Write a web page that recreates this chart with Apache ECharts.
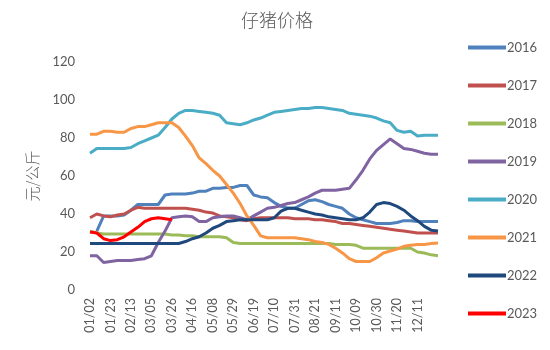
<!DOCTYPE html>
<html>
<head>
<meta charset="utf-8">
<script src="https://cdn.jsdelivr.net/npm/echarts@6/dist/echarts.min.js"></script>
<style>
  html, body { margin: 0; padding: 0; background: #ffffff; }
  #chart { width: 550px; height: 350px; }
</style>
</head>
<body>
<div id="chart"></div>
<script>
// Weekly sampling dates (month/day)
const categories = [
  '01/02','01/09','01/16','01/23','01/30','02/06','02/13','02/20','02/27','03/05',
  '03/12','03/19','03/26','04/02','04/09','04/16','04/23','04/29','05/08','05/15',
  '05/22','05/29','06/05','06/12','06/19','06/26','07/03','07/10','07/17','07/24',
  '07/31','08/07','08/14','08/21','08/28','09/04','09/11','09/18','09/25','10/09',
  '10/16','10/23','10/30','11/06','11/13','11/20','11/27','12/04','12/11','12/18',
  '12/25','12/29'
];

// Piglet prices, 元/公斤
const s2016 = [null,31,39,39,39,39.5,42,45,45,45,45,50,50.5,50.5,50.5,51,52,52,53.5,53.5,
  54,54,55,55,50,49,48.5,46,44,43,43,45,47,47.5,46.5,45,44,43,40,38,
  37,36,35,35,35,35.5,36.5,36.5,36,36,36,36];
const s2017 = [38,40,39,38.5,39.5,40,42,43.5,43,43,43,43,43,43,43,42.5,42,41,40.5,39,
  38.5,38,37,36.5,37.5,38,38,38,38,38,37.5,37.5,37.5,37,37,36.5,36,35,35,34.5,
  34,33.5,33,32.5,32,31.5,31,30.5,30,30,30,30];
const s2018 = [31,30,29.5,29.5,29.5,29.5,29.5,29.5,29.5,29.5,29.5,29.5,29,29,28.5,28.5,28,28,28,28,
  27.5,25,24.5,24.5,24.5,24.5,24.5,24.5,24.5,24.5,24.5,24.5,24.5,24.5,24.5,24.5,24,24,24,23.5,
  22,22,22,22,22,22,22,22,20,19.5,18.5,18];
const s2019 = [18,18,14.5,15,15.5,15.5,15.5,16,16.5,18,25,31,38,38.5,39,38.5,36,36,38,38.5,
  39,39,38,37,39,41,43,43.5,44.5,45.5,46,47.5,49,51,52.5,52.5,52.5,53,53.5,58,
  63,69,73.5,76.5,79.5,77,74.5,74,73,72,71.5,71.5];
const s2020 = [72,74.5,74.5,74.5,74.5,74.5,75,77,78.5,80,81.5,85.5,90,93,94.5,94.5,94,93.5,93,92,
  88,87.5,87,88,89.5,90.5,92,93.5,94,94.5,95,95.5,95.5,96,96,95.5,95,94.5,93,92.5,
  92,91.5,90.5,89,88,84,83,83.5,81,81.5,81.5,81.5];
const s2021 = [82,82,83.5,83.5,83,83,85,86,86,87,88,88,88,85.5,81,76,69.5,66.5,63,60,
  55.5,51,45.5,39,34,28.5,27.5,27.5,27.5,27.5,27.5,27,26.5,25.5,25,24,22,19.5,16.5,15,
  15,15,17,19.5,20.5,21.5,23,23.5,24,24,24.5,24.7];
const s2022 = [24.5,24.5,24.5,24.5,24.5,24.5,24.5,24.5,24.5,24.5,24.5,24.5,24.5,24.5,25.5,27,28,30,32.5,34,
  36,36.5,37,37,37,37,37,38,41.5,43,43,42,41,40,39.5,38.5,38,37.5,37,37,
  38,41,45,46,45.5,44,42,39,36.5,33.5,31.5,31];
const s2023 = [30.5,30,27,26,26.5,28,30.5,33,36,37.5,38,37.5,37];

const yTicks = { min: 0, max: 120, interval: 20 };
// Date labels are printed every third week, up to 12/11
const labelStep = 3;
const lastLabelIndex = 48;

const seriesDefs = [
  { name: '2016', data: s2016, color: '#4F81BD' },
  { name: '2017', data: s2017, color: '#C0504D' },
  { name: '2018', data: s2018, color: '#9BBB59' },
  { name: '2019', data: s2019, color: '#8064A2' },
  { name: '2020', data: s2020, color: '#4BACC6' },
  { name: '2021', data: s2021, color: '#F79646' },
  { name: '2022', data: s2022, color: '#1F497D' },
  { name: '2023', data: s2023, color: '#FF0000' }
];

const textColor = '#595959';
const numFont = 'Lato, "Noto Sans CJK SC", sans-serif';
const cjkFont = '"Noto Sans CJK SC", sans-serif';

const chart = echarts.init(document.getElementById('chart'), null, { renderer: 'canvas' });

chart.setOption({
  animation: false,
  backgroundColor: '#ffffff',
  title: {
    text: '仔猪价格',
    left: 272,
    top: 6,
    textAlign: 'center',
    textStyle: { fontFamily: cjkFont, fontSize: 18, fontWeight: 300, color: textColor }
  },
  legend: {
    type: 'plain',
    orient: 'vertical',
    left: 463,
    top: 33,
    bottom: 0,
    itemGap: 19,
    itemWidth: 38,
    itemHeight: 16,
    icon: 'path://M0,6 L38,6 L38,10 L0,10 Z',
    textStyle: { fontFamily: numFont, fontSize: 13, color: textColor, padding: [0, 0, 0, -4], height: 19, lineHeight: 19 },
    data: seriesDefs.map(s => s.name)
  },
  grid: { left: 90, right: 112, top: 62, bottom: 60, containLabel: false },
  xAxis: {
    type: 'category',
    boundaryGap: false,
    data: categories,
    axisLine: { show: false },
    axisTick: { show: false },
    axisLabel: {
      interval: (idx) => idx % labelStep === 0 && idx <= lastLabelIndex,
      rotate: 90,
      margin: 8,
      fontFamily: numFont,
      fontSize: 12.5,
      color: textColor
    },
    splitLine: { show: false }
  },
  yAxis: {
    type: 'value',
    min: yTicks.min,
    max: yTicks.max,
    interval: yTicks.interval,
    name: '元/公斤',
    nameLocation: 'middle',
    nameGap: 50,
    nameRotate: 90,
    nameTextStyle: { fontFamily: cjkFont, fontSize: 15, fontWeight: 300, color: textColor },
    axisLine: { show: false },
    axisTick: { show: false },
    axisLabel: { margin: 15, fontFamily: numFont, fontSize: 13, color: textColor },
    splitLine: { show: false }
  },
  series: seriesDefs.map(s => ({
    name: s.name,
    type: 'line',
    data: s.data,
    symbol: 'none',
    smooth: false,
    connectNulls: false,
    lineStyle: { width: 3, color: s.color },
    itemStyle: { color: s.color }
  }))
});
</script>
</body>
</html>
